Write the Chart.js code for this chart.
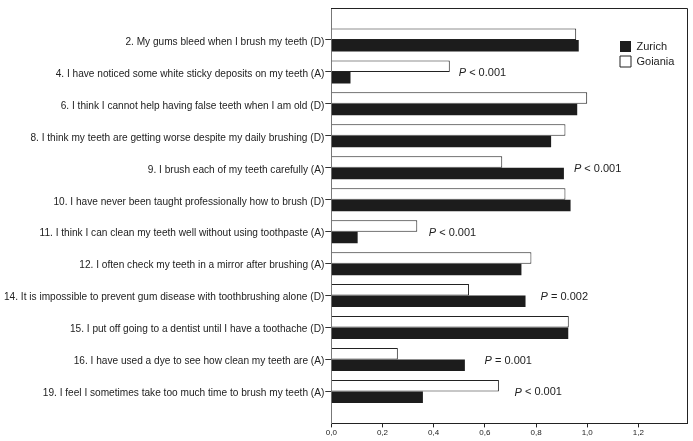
<!DOCTYPE html>
<html>
<head>
<meta charset="utf-8">
<script src="https://cdn.jsdelivr.net/npm/chart.js@4/dist/chart.umd.min.js"></script>
<style>
  html, body { margin: 0; padding: 0; background: #fff; }
  #wrap { width: 693px; height: 441px; }
</style>
</head>
<body>
<div id="wrap"><canvas id="teethChart"></canvas></div>
<script>
const statements = [
  '2. My gums bleed when I brush my teeth (D)',
  '4. I have noticed some white sticky deposits on my teeth (A)',
  '6. I think I cannot help having false teeth when I am old (D)',
  '8. I think my teeth are getting worse despite my daily brushing (D)',
  '9. I brush each of my teeth carefully (A)',
  '10. I have never been taught professionally how to brush (D)',
  '11. I think I can clean my teeth well without using toothpaste (A)',
  '12. I often check my teeth in a mirror after brushing (A)',
  '14. It is impossible to prevent gum disease with toothbrushing alone (D)',
  '15. I put off going to a dentist until I have a toothache (D)',
  '16. I have used a dye to see how clean my teeth are (A)',
  '19. I feel I sometimes take too much time to brush my teeth (A)'
];
const zurich  = [0.967, 0.075, 0.961, 0.859, 0.909, 0.935, 0.103, 0.743, 0.759, 0.926, 0.522, 0.358];
const goiania = [0.957, 0.463, 1.000, 0.915, 0.668, 0.915, 0.336, 0.782, 0.538, 0.928, 0.260, 0.655];
const pLabels  = ['', '< 0.001', '', '', '< 0.001', '', '< 0.001', '', '= 0.002', '', '= 0.001', '< 0.001'];
const pLabelAt = [null, 0.498, null, null, 0.948, null, 0.381, null, 0.818, null, 0.599, 0.716];
const xTicks = [0, 0.2, 0.4, 0.6, 0.8, 1.0, 1.2];

const family = '"Liberation Sans", Arial, sans-serif';
const ink = '#222';

// top and right edges of the plot frame
const framePlugin = {
  id: 'frame',
  afterDraw(chart) {
    const { ctx, chartArea: a } = chart;
    ctx.save();
    ctx.strokeStyle = ink;
    ctx.lineWidth = 1;
    ctx.beginPath();
    ctx.moveTo(Math.round(a.left), Math.round(a.top) + 0.5);
    ctx.lineTo(Math.round(a.right) + 0.5, Math.round(a.top) + 0.5);
    ctx.lineTo(Math.round(a.right) + 0.5, Math.round(a.bottom));
    ctx.stroke();
    ctx.restore();
  }
};

// P value notes next to the bars
const pValuePlugin = {
  id: 'pValues',
  afterDatasetsDraw(chart) {
    const { ctx, scales: { x, y } } = chart;
    ctx.save();
    ctx.fillStyle = ink;
    ctx.textBaseline = 'middle';
    ctx.textAlign = 'left';
    pLabels.forEach((t, i) => {
      if (!t) return;
      let px = x.getPixelForValue(pLabelAt[i]);
      const py = y.getPixelForValue(i) + 1;
      ctx.font = 'italic 11px ' + family;
      ctx.fillText('P', px, py);
      px += ctx.measureText('P').width;
      ctx.font = '11px ' + family;
      ctx.fillText(' ' + t, px, py);
    });
    ctx.restore();
  }
};

// move the legend into the top right corner of the plot
const legendSpot = {
  id: 'legendSpot',
  afterLayout(chart) {
    const lg = chart.legend;
    if (!lg) return;
    const a = chart.chartArea;
    lg.left = a.right - 71;
    lg.top = a.top + 29;
    lg.right = lg.left + lg.width;
    lg.bottom = lg.top + lg.height;
  }
};

const ctx = document.getElementById('teethChart').getContext('2d');
const teethChart = new Chart(ctx, {
  type: 'bar',
  data: {
    datasets: [{
      label: 'Goiania',
      data: goiania.map((v, i) => ({ x: v, y: i })),
      backgroundColor: '#ffffff',
      borderColor: ink,
      borderWidth: 1,
      categoryPercentage: 0.72,
      barPercentage: 1
    }, {
      label: 'Zurich',
      data: zurich.map((v, i) => ({ x: v, y: i })),
      backgroundColor: '#1c1c1c',
      borderWidth: 0,
      categoryPercentage: 0.72,
      barPercentage: 1
    }]
  },
  options: {
    indexAxis: 'y',
    responsive: true,
    maintainAspectRatio: false,
    animation: false,
    layout: { padding: { left: 3, right: 6, top: 8, bottom: 2 } },
    scales: {
      x: {
        type: 'linear',
        min: 0,
        max: 1.39,
        afterBuildTicks: axis => { axis.ticks = xTicks.map(v => ({ value: v })); },
        ticks: {
          font: { size: 8, family },
          color: ink,
          padding: 1,
          maxRotation: 0,
          callback: v => v.toFixed(1).replace('.', ',')
        },
        grid: { drawOnChartArea: false, drawTicks: true, tickLength: 4, tickColor: ink },
        border: { display: true, color: ink, width: 1 }
      },
      y: {
        type: 'linear',
        reverse: true,
        offset: false,
        min: -1,
        max: 12,
        afterBuildTicks: axis => { axis.ticks = statements.map((_, i) => ({ value: i })); },
        ticks: {
          font: { size: 10.12, family },
          color: ink,
          padding: 1,
          labelOffset: 2,
          autoSkip: false,
          callback: v => statements[v]
        },
        grid: { offset: false, drawOnChartArea: false, drawTicks: true, tickLength: 6, tickColor: '#333' },
        border: { display: true, color: '#777', width: 1 }
      }
    },
    plugins: {
      legend: {
        position: 'chartArea',
        align: 'start',
        reverse: true,
        labels: {
          boxWidth: 11,
          boxHeight: 11,
          padding: 4,
          color: ink,
          font: { size: 11, family }
        }
      },
      tooltip: { enabled: false }
    }
  },
  plugins: [framePlugin, pValuePlugin, legendSpot]
});
</script>
</body>
</html>
